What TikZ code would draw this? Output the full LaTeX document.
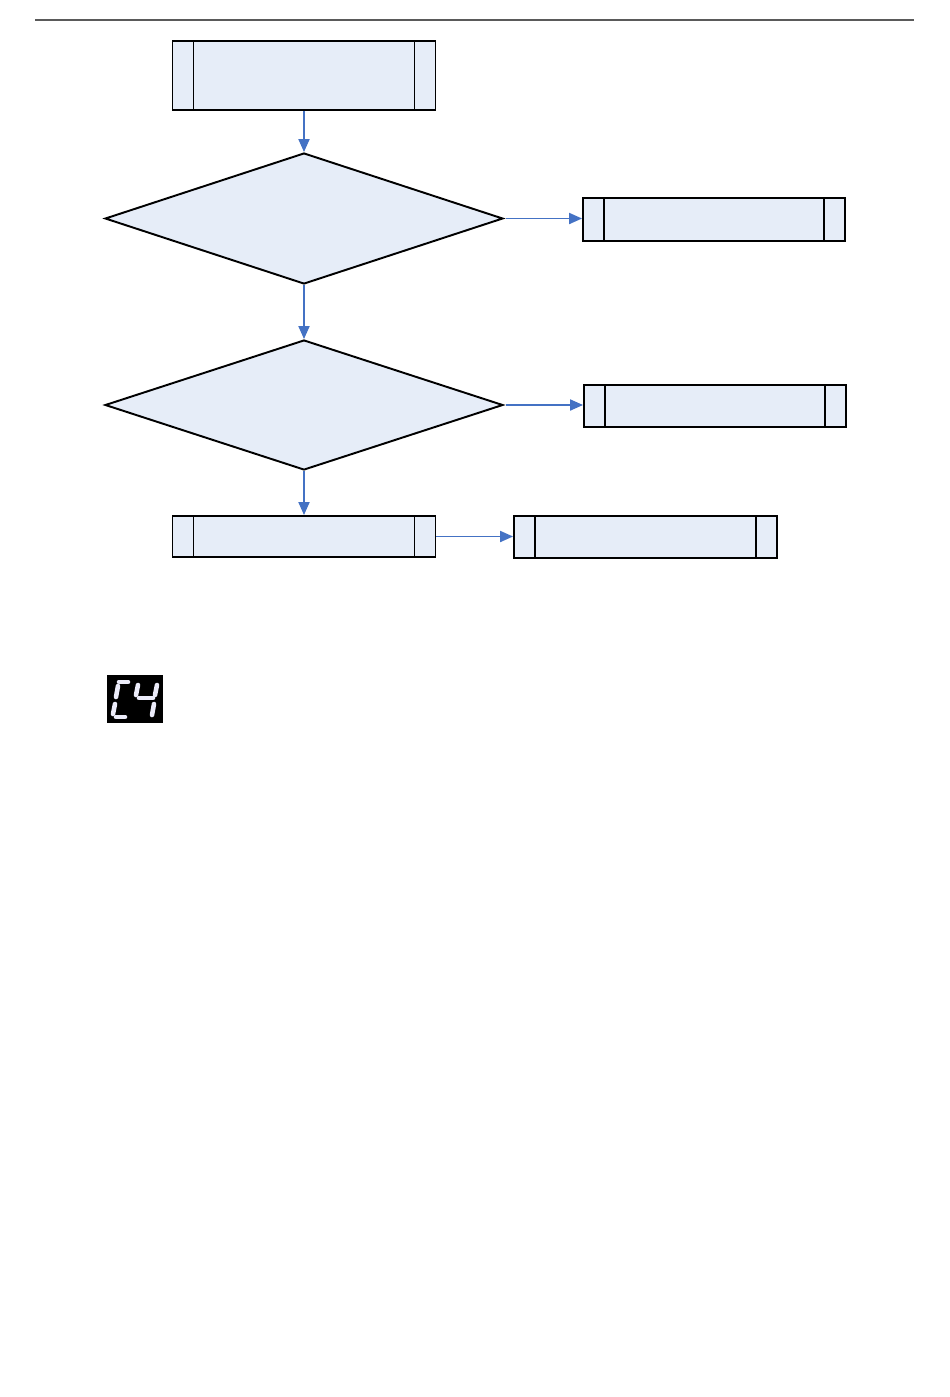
\documentclass[tikz,border=0pt]{standalone}
\usepackage{xcolor}
\usepackage{tikz}
\usetikzlibrary{shapes.geometric, arrows.meta, positioning}
\definecolor{FlowFill}{RGB}{230, 237, 248}
\definecolor{FlowBlue}{RGB}{68, 114, 196}
\definecolor{FlowRule}{RGB}{90, 90, 90}
\definecolor{SegLight}{RGB}{236, 236, 250}

\tikzset{
  procbox/.style={rectangle, fill=FlowFill, draw=black, line width=1.1pt,
    minimum width=5.26cm, minimum height=0.84cm, inner sep=0pt,
    path picture={
      \draw[line width=1.1pt] ([xshift=0.42cm]path picture bounding box.north west)
        -- ([xshift=0.42cm]path picture bounding box.south west);
      \draw[line width=1.1pt] ([xshift=-0.42cm]path picture bounding box.north east)
        -- ([xshift=-0.42cm]path picture bounding box.south east);
    }},
  decision/.style={diamond, fill=FlowFill, draw=black, line width=1.1pt,
    minimum width=7.96cm, minimum height=2.62cm, inner sep=0pt},
  flowarrow/.style={draw=FlowBlue, line width=1.1pt, -{Triangle[length=0.26cm, width=0.22cm]}},
  segment/.style={draw=SegLight, line width=2.6pt, line cap=round}
}

\begin{document}
\begin{tikzpicture}[x=0.02cm, y=-0.02cm]
  \useasboundingbox (0,0) rectangle (950,1397);

  % header rule
  \coordinate (rulel) at (35,20);
  \coordinate (ruler) at (914,20);
  \draw[FlowRule, line width=0.9pt] (rulel) -- (ruler);

  % flow chart
  \node[procbox, minimum height=1.38cm] (start) at (304,75.5) {};
  \node[decision] (checkA) at (304,218.5) {};
  \node[procbox, minimum width=5.24cm, minimum height=0.86cm] (resultA) at (714,219.5) {};
  \node[decision, minimum height=2.6cm] (checkB) at (304,405) {};
  \node[procbox, minimum width=5.24cm] (resultB) at (715,406) {};
  \node[procbox, minimum height=0.82cm] (stepC) at (304,536.5) {};
  \node[procbox] (resultC) at (645.5,537) {};

  \draw[flowarrow] (start.south) -- (checkA.north);
  \draw[flowarrow] ([xshift=1pt]checkA.east) -- (checkA.east -| resultA.west);
  \draw[flowarrow] (checkA.south) -- (checkB.north);
  \draw[flowarrow] ([xshift=1pt]checkB.east) -- (checkB.east -| resultB.west);
  \draw[flowarrow] (checkB.south) -- (stepC.north);
  \draw[flowarrow] (stepC.east) -- (stepC.east -| resultC.west);

  % error code display
  \node[fill=black, minimum width=1.12cm, minimum height=0.96cm, inner sep=0pt] (display) at (135,699) {};
  \draw[segment] (119,682) -- (128,682);
  \draw[segment] (118,686) -- (116,697);
  \draw[segment] (115,704) -- (113,714);
  \draw[segment] (116,717) -- (125,717);
  \draw[segment] (138,685) -- (136,695);
  \draw[segment] (157,685) -- (155,695);
  \draw[segment] (139,698) -- (153,698);
  \draw[segment] (154,704) -- (152,715);
\end{tikzpicture}
\end{document}
